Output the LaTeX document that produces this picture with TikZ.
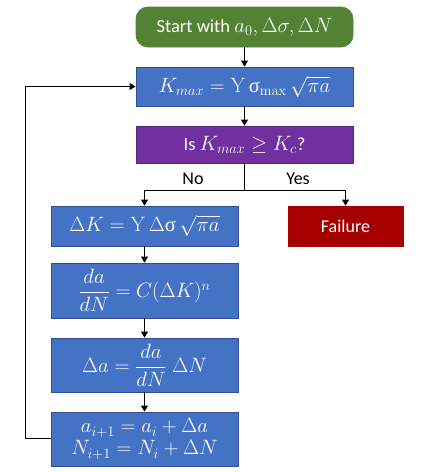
\documentclass[tikz,border=0pt]{standalone}
\usepackage{amsmath}
\usepackage[no-math]{fontspec}
\setmainfont{Carlito}
\newfontfamily\serifgr{Liberation Serif}
\usetikzlibrary{arrows.meta}
\definecolor{cgreen}{HTML}{548235}
\definecolor{cblue}{HTML}{4472C4}
\definecolor{cblueb}{HTML}{2F528F}
\definecolor{cpurple}{HTML}{7030A0}
\definecolor{cpurpleb}{HTML}{5A2482}
\definecolor{cred}{HTML}{A50000}
\newcommand{\usig}{\hbox{\serifgr σ}}
\newcommand{\mth}[1]{{\fontsize{20.5}{24}\selectfont$#1$}}
\begin{document}
\begin{tikzpicture}[x=1pt,y=-1pt,
  box/.style={rectangle, draw=cblueb, line width=0.8pt, fill=cblue, text=white,
    inner sep=0pt, align=center, font=\fontsize{18.5}{22}\selectfont},
  conn/.style={line width=1pt, -{Triangle[width=7pt,length=6pt]}},
  lab/.style={font=\fontsize{18}{22}\selectfont, inner sep=0pt}]
\useasboundingbox (0,0) rectangle (440,472);
\node[box, fill=cgreen, draw=cgreen, rounded corners=12pt, minimum width=217pt, minimum height=40pt] (start) at (244.5,27) {Start with \mth{a_0, \Delta\sigma, \Delta N}};
\node[box, minimum width=217pt, minimum height=39pt] (kmax) at (244.5,86.5) {\mth{K_{max} = \mathrm{Y}\,\usig_{\mathrm{max}}\,\sqrt{\pi a}}};
\node[box, fill=cpurple, draw=cpurpleb, minimum width=217pt, minimum height=37pt] (isk) at (244.5,144.5) {Is \mth{K_{max} \geq K_c}?};
\node[box, minimum width=187pt, minimum height=40pt] (dk) at (144.5,226) {\mth{\Delta K = \mathrm{Y}\,\Delta\usig\,\sqrt{\pi a}}};
\node[box, fill=cred, draw=cred, minimum width=115pt, minimum height=40pt, font=\fontsize{18}{22}\selectfont] (fail) at (345.5,226) {Failure};
\node[box, minimum width=187pt, minimum height=55pt] (dadn) at (144.5,290.5) {\mth{\dfrac{da}{dN} = C(\Delta K)^n}};
\node[box, minimum width=187pt, minimum height=54pt] (da) at (144.5,365) {\mth{\Delta a = \dfrac{da}{dN}\;\Delta N}};
\node[box, minimum width=187pt, minimum height=54pt, font=\fontsize{20.5}{22}\selectfont] (upd) at (144.5,439) {$a_{i+1} = a_i + \Delta a$\\$N_{i+1} = N_i + \Delta N$};
\coordinate (br) at (244.5,190);
\coordinate (loopb) at (25,438);
\coordinate (loopt) at (25,86.5);
\draw[conn] (start) -- (kmax);
\draw[conn] (kmax) -- (isk);
\draw[line width=1pt] (isk.south) -- (br);
\draw[conn] (br) -| (dk.north);
\draw[conn] (br) -| (fail.north);
\draw[conn] (dk) -- (dadn);
\draw[conn] (dadn) -- (da);
\draw[conn] (da) -- (upd);
\draw[line width=1pt] (upd.west |- loopb) -- (loopb) -- (loopt);
\draw[conn] (loopt) -- (kmax.west);
\node[lab] (no) at (193,179) {No};
\node[lab] (yes) at (298,179) {Yes};
\end{tikzpicture}
\end{document}
